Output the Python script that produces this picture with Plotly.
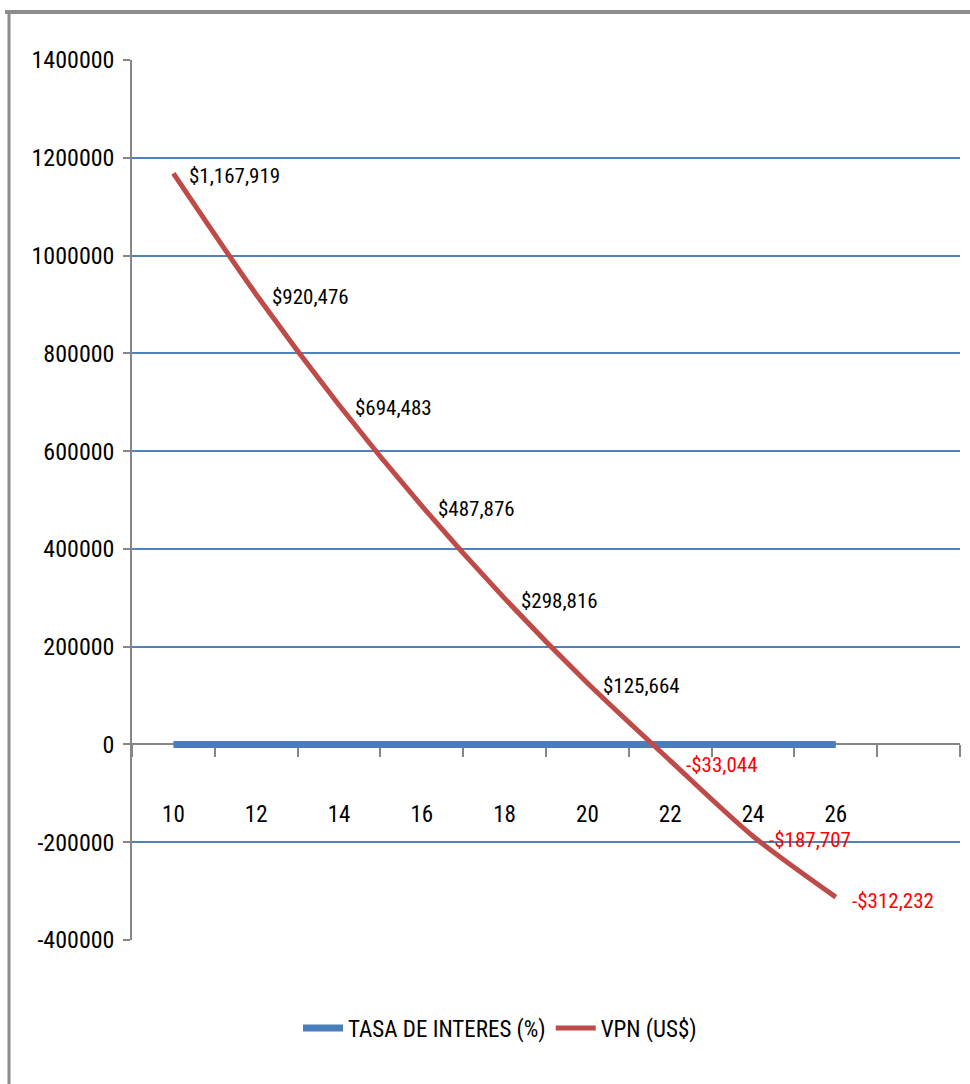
import plotly.graph_objects as go

tasa = [10, 12, 14, 16, 18, 20, 22, 24, 26]
vpn = [1167919, 920476, 694483, 487876, 298816, 125664, -33044, -187707, -312232]
x_labels = [str(t) for t in tasa]
y_ticks = [-400000, -200000, 0, 200000, 400000, 600000, 800000, 1000000, 1200000, 1400000]
y_ticktext = [str(v) for v in y_ticks]

FONT = "Liberation Sans Narrow, Arial Narrow, Roboto Condensed, sans-serif"
xi = list(range(len(tasa)))

def money(v):
    s = "${:,}".format(abs(v))
    return ("-" + s) if v < 0 else s

fig = go.Figure()
fig.add_trace(go.Scatter(x=xi, y=tasa, mode="lines", name="TASA DE INTERES (%)",
                         line=dict(color="#4A7EBB", width=7)))
fig.add_trace(go.Scatter(x=xi, y=vpn, mode="lines", name="VPN (US$)",
                         line=dict(color="#BE4B48", width=5, shape="spline", smoothing=0.8)))

for i, v in zip(xi, vpn):
    fig.add_annotation(x=i, y=v, text=money(v), showarrow=False, xanchor="left",
                       yanchor="middle", xshift=14, yshift=-3 if v >= 0 else -4,
                       font=dict(family=FONT, size=21, color="#FF0000" if v < 0 else "#000000"))

ymin, ymax = y_ticks[0], y_ticks[-1]
fig.update_layout(
    width=970, height=1084,
    margin=dict(l=132, r=10, t=60, b=144, autoexpand=False),
    paper_bgcolor="white", plot_bgcolor="white",
    font=dict(family=FONT, size=24, color="#000000"),
    showlegend=True,
    legend=dict(orientation="h", xref="container", yref="container",
                x=500/970, y=1-1028/1084, xanchor="center", yanchor="middle",
                font=dict(family=FONT, size=23), itemwidth=40),
    xaxis=dict(range=[-0.5, 9.5], tickmode="array", tickvals=xi, ticktext=x_labels,
               ticks="", showgrid=False, zeroline=False, layer="below traces",
               showline=True, linecolor="#868686", linewidth=1.5,
               anchor="free", position=(0 - ymin) / (ymax - ymin),
               ticklabelstandoff=49,
               tickfont=dict(family=FONT, size=23),
               minor=dict(tick0=-0.5, dtick=1, ticks="outside", ticklen=12,
                          tickcolor="#868686", tickwidth=1.5, showgrid=False)),
    yaxis=dict(range=[ymin, ymax], tickmode="array", tickvals=y_ticks, ticktext=y_ticktext,
               ticks="outside", ticklen=7, tickcolor="#868686", tickwidth=1.5,
               showgrid=True, gridcolor="#4F81BD", gridwidth=1.5, zeroline=False,
               layer="below traces",
               showline=True, linecolor="#868686", linewidth=1.5,
               tickfont=dict(family=FONT, size=24), ticklabelstandoff=4),
)

# outer frame
fig.add_shape(type="line", xref="paper", yref="paper",
              x0=(5-132)/828, x1=(970-132)/828, y0=1+(60-12)/880, y1=1+(60-12)/880,
              line=dict(color="#8C8C8C", width=4))
fig.add_shape(type="line", xref="paper", yref="paper",
              x0=(9-132)/828, x1=(9-132)/828, y0=1+(60-12)/880, y1=-144/880,
              line=dict(color="#8C8C8C", width=3))

fig.write_html("out.html")
